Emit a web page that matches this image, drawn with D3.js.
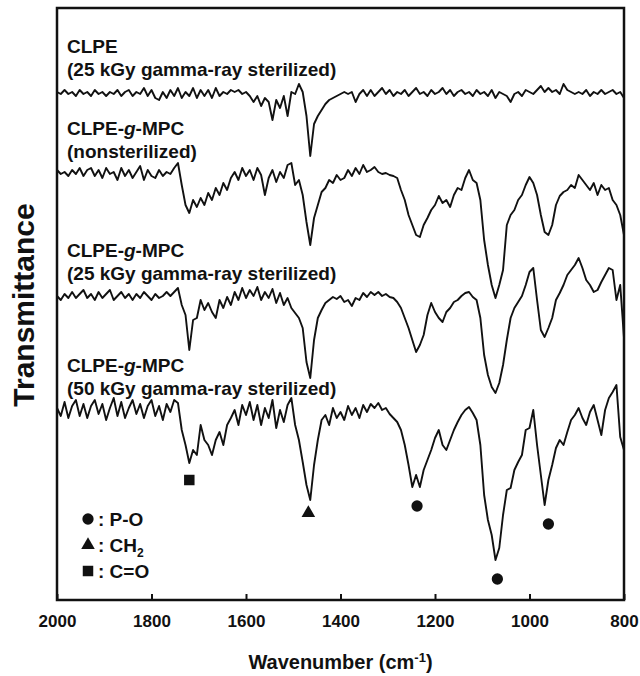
<!DOCTYPE html>
<html lang="en">
<head>
<meta charset="UTF-8">
<title>FTIR spectra of CLPE and CLPE-g-MPC</title>
<script src="https://d3js.org/d3.v7.min.js"></script>
<style>
  body { margin: 0; background: #fff; }
  svg text { font-family: Arial, "Liberation Sans", sans-serif; font-weight: bold; fill: #111; }
</style>
</head>
<body>
<div id="viz"></div>
<script>
// sampling grid (cm-1)
var wavenumbers = [
  2000,1992,1984,1976,1968,1960,1952,1944,1936,1928,
  1920,1912,1904,1896,1888,1880,1872,1864,1856,1848,
  1840,1832,1824,1816,1808,1800,1792,1784,1776,1768,
  1760,1752,1744,1736,1728,1720,1712,1704,1696,1688,
  1680,1672,1664,1656,1648,1640,1632,1624,1616,1608,
  1600,1592,1584,1576,1568,1560,1552,1544,1536,1528,
  1520,1512,1504,1496,1488,1480,1472,1464,1456,1448,
  1440,1432,1424,1416,1408,1400,1392,1384,1376,1368,
  1360,1352,1344,1336,1328,1320,1312,1304,1296,1288,
  1280,1272,1264,1256,1248,1240,1232,1224,1216,1208,
  1200,1192,1184,1176,1168,1160,1152,1144,1136,1128,
  1120,1112,1104,1096,1088,1080,1072,1064,1056,1048,
  1040,1032,1024,1016,1008,1000,992,984,976,968,
  960,952,944,936,928,920,912,904,896,888,
  880,872,864,856,848,840,832,824,816,808,
  800
];

// offset transmittance (a.u.), one value per wavenumber
var clpe25 = [
  127,126.5,127.5,126.5,127,126,127.5,126.5,127,126,
  127.5,126.5,127,126,127,126.5,127.5,126,127,127.5,
  126,127,126.5,128,126,127.5,125.5,125,127,125.5,
  127.5,126,128,125.5,127,126,128,125.5,127.5,126,
  127.5,125.5,128,126,127,126.5,127.5,127,127.5,126.5,
  127,126,124.5,126,123.5,125.5,124.5,120,125,123,
  126,121,127,126.5,129,127,121,111,119,121,
  122.5,124,125,125.5,126,126.5,127,126.5,127,124.5,
  126.5,127.5,126,127.5,126,127,128,126.5,127.5,126,
  127,126.5,127.5,126,127,128,126.5,127,126,127.5,
  126.5,127,128,126.5,127.5,126,127,127.5,126.5,127,
  126,127.5,126.5,127,126,127.5,125.5,127,126.5,126,
  124.5,126.5,127,126,127.5,127,126.5,127.5,128.5,127,
  128,127,127.5,126.5,129,127.5,127,126.5,127,126.5,
  127.5,126,127,126.5,127.5,126.5,127,127.5,126.5,127,
  125.5
];

var mpcNonsterilized = [
  107.5,106.5,107,106,107.5,106.5,108,106,107.5,108,
  106,107.5,105.5,108,106.5,107,105,108,106,107.5,
  105.5,107,108.5,105,107.5,106,105.5,107.5,106,107,
  106.5,108,109.25,103.75,98.75,96.75,100,98.25,100.5,98.75,
  101.75,100,103,101.25,104.25,102.5,105.5,107,105,108,
  106,107.5,105,108,106.25,101.25,105.5,107.5,104.5,107,
  105.5,108.75,109.25,103.75,105,101.25,94.5,88.75,95.5,98.75,
  102,103,105,104.25,106.25,105,105.5,107.5,106,108,
  106.5,108.75,107,107.5,108.25,107,106.5,106.75,106.25,106,
  105.5,102.5,100,96.25,93.75,91.25,90.75,93.75,95.5,97.5,
  98.75,101,99.25,100,98.25,101.25,103,102.5,105.5,107.5,
  105,104.25,100,90,83.75,78.75,75.5,78.75,82.5,93.75,
  96.25,97.5,100,101.25,103.75,105.75,104.25,101.25,96.25,92,
  91.25,93.75,98.75,101,102,102.5,103.75,103,106.25,105,
  103.75,102.5,104.25,101.25,103.75,102.5,103,100,98.75,96.25,
  91.25
];

var mpc25 = [
  76,75,76.5,75.5,77,75.5,76.5,77.5,75.5,76.5,
  75,77,75.5,76.5,77.5,75,76,77,75.5,76.5,
  75,76.5,75.5,77,76,75,76.5,75.5,76,77,
  76,77,78,73.75,71.25,62.5,70,70.5,75,72.5,
  74.25,72,70.5,75,73,75.75,73.75,77,75,78,
  75.5,77.5,76,78.25,75,77,75.5,77.75,74.25,76.75,
  73.75,75.5,73,71.75,70.5,68,59.5,55.5,65,70.5,
  72.5,74.25,75,75.75,75.25,76,74.5,75,73.5,75.5,
  75,76.75,75.75,77,76.25,77,76,76.5,75.75,75.5,
  74.5,73,70.5,68,65,62,63.75,66.25,71.25,74.25,
  72,70.5,69.5,72,73,74.5,75,76,76.75,77,
  75.75,75,70.5,61.25,56.25,53.25,51.75,54.25,58.75,65,
  70.5,73,74.5,76,78.75,82,83,75,67.5,65.75,
  68,70.5,75,76.75,78.75,81.25,82.5,83.75,85.5,83,
  80,78.75,77,77.5,79.5,81.25,83,82.5,75,78.75,
  65.5
];

var mpc50 = [
  48,46,49.5,45.5,48.5,50,46,49,45.5,48.5,
  50,46.5,49,45,48,50.5,46,49.5,45.5,48,
  50,46.5,49,45.5,48.5,50,46,48.5,45,49,
  47,50,49.25,42.5,38.75,34.25,37.5,36.25,43.75,40,
  38.75,36.25,40,42,38.75,43.75,45.5,47.5,43.75,48.75,
  46.25,49.5,45,48.75,43.75,48,45.5,50,43,47.5,
  44.5,48.75,50.5,43.75,40,34.5,28.75,25,33.75,40,
  45,46.25,43.75,48,45.5,47,45,48.5,46.25,48,
  45.5,48.75,47,49,48,49.25,47.5,48,46.5,45.5,
  44.5,42.5,38.75,33.75,28.25,31.25,28.25,32.5,35,37.5,
  40.5,42.5,38.75,37.5,40,42.5,44.5,46.25,47.5,48.25,
  46.75,45,38.75,26.25,20,16.25,10,13,21.25,27.5,
  28,32.5,34.5,36.25,42.5,43,47.5,38.75,31.25,23.75,
  30,33.75,38,40,38.75,42,45,46.25,48,45.5,
  43.75,47,48.75,45,41.25,47.5,50.5,52,53.75,40.75,
  37.5
];

var seriesList = [clpe25, mpcNonsterilized, mpc25, mpc50];

// peak assignment markers
var peakWavenumbers = [1720, 1468, 1238, 1068, 960];
var peakLevels = [30, 21.75, 23.5, 5.25, 19];
var peakShapes = ["square", "triangle", "circle", "circle", "circle"];

var legendShapes = ["circle", "triangle", "square"];
var legendLabels = ["P-O", "CH2", "C=O"];

var tickValues = [2000, 1800, 1600, 1400, 1200, 1000, 800];

var width = 640, height = 676;
var margin = { left: 57, right: 16, top: 8, bottom: 76 };

var svg = d3.select("#viz").append("svg")
    .attr("width", width)
    .attr("height", height);

var x = d3.scaleLinear()
    .domain([2000, 800])
    .range([margin.left, width - margin.right]);

var y = d3.scaleLinear()
    .domain([0, 148])
    .range([height - margin.bottom, margin.top]);

// spectra
var line = d3.line()
    .x(function(d, i) { return x(wavenumbers[i]); })
    .y(function(d) { return y(d); });

svg.selectAll("path.spectrum")
  .data(seriesList)
  .enter()
  .append("path")
    .attr("class", "spectrum")
    .attr("d", line)
    .attr("fill", "none")
    .attr("stroke", "#111")
    .attr("stroke-width", 1.9)
    .attr("stroke-linejoin", "round");

// series labels (two lines each)
var labelRows = [
  [{ t: "CLPE" }, { t: "(25 kGy gamma-ray sterilized)" }],
  [{ t: "CLPE-", it: "g", rest: "-MPC" }, { t: "(nonsterilized)" }],
  [{ t: "CLPE-", it: "g", rest: "-MPC" }, { t: "(25 kGy gamma-ray sterilized)" }],
  [{ t: "CLPE-", it: "g", rest: "-MPC" }, { t: "(50 kGy gamma-ray sterilized)" }]
];
var labelBaselines = [53, 76, 135, 158, 257, 280, 372, 395];

labelRows.forEach(function(rows, k) {
  rows.forEach(function(r, j) {
    var t = svg.append("text")
        .attr("x", 67)
        .attr("y", labelBaselines[k * 2 + j])
        .style("font-size", "19px");
    t.append("tspan").text(r.t);
    if (r.it) {
      t.append("tspan").style("font-style", "italic").text(r.it);
      t.append("tspan").text(r.rest);
    }
  });
});

// markers
function symbolFor(s) {
  if (s === "circle") return d3.symbol().type(d3.symbolCircle).size(100)();
  if (s === "triangle") return d3.symbol().type(d3.symbolTriangle).size(80)();
  return d3.symbol().type(d3.symbolSquare).size(110)();
}

svg.selectAll("path.peak")
  .data(peakWavenumbers)
  .enter()
  .append("path")
    .attr("class", "peak")
    .attr("d", function(d, i) { return symbolFor(peakShapes[i]); })
    .attr("transform", function(d, i) {
      return "translate(" + x(d) + "," + y(peakLevels[i]) + ")";
    })
    .attr("fill", "#111");

// legend
var legendY = [519, 545, 571];
legendShapes.forEach(function(s, i) {
  svg.append("path")
      .attr("d", symbolFor(s))
      .attr("transform", "translate(88," + legendY[i] + ")")
      .attr("fill", "#111");
  var t = svg.append("text")
      .attr("x", 98)
      .attr("y", legendY[i] + 7)
      .style("font-size", "19px");
  if (legendLabels[i] === "CH2") {
    t.append("tspan").text(": CH");
    t.append("tspan").attr("dy", 5).style("font-size", "12px").text("2");
  } else {
    t.text(": " + legendLabels[i]);
  }
});

// frame
svg.append("rect")
    .attr("x", x(2000))
    .attr("y", y(148))
    .attr("width", x(800) - x(2000))
    .attr("height", y(0) - y(148))
    .attr("fill", "none")
    .attr("stroke", "#111")
    .attr("stroke-width", 2.5);

// bottom axis with inward ticks
var xAxis = d3.axisBottom(x)
    .tickValues(tickValues)
    .tickSizeInner(-6)
    .tickSizeOuter(0)
    .tickPadding(15)
    .tickFormat(d3.format("d"));

var gx = svg.append("g")
    .attr("transform", "translate(0," + y(0) + ")")
    .call(xAxis);
gx.select(".domain").remove();
gx.selectAll(".tick line").attr("stroke", "#111").attr("stroke-width", 2);
gx.selectAll(".tick text")
    .style("font-size", "17px")
    .style("font-family", "Arial, 'Liberation Sans', sans-serif")
    .style("font-weight", "bold")
    .attr("fill", "#111");

// axis titles
var xt = svg.append("text")
    .attr("x", (x(2000) + x(800)) / 2)
    .attr("y", 669)
    .attr("text-anchor", "middle")
    .style("font-size", "20px");
xt.append("tspan").text("Wavenumber (cm");
xt.append("tspan").attr("dy", -7).style("font-size", "13px").text("-1");
xt.append("tspan").attr("dy", 7).text(")");

svg.append("text")
    .attr("transform", "translate(34,305) rotate(-90)")
    .attr("text-anchor", "middle")
    .style("font-size", "30px")
    .text("Transmittance");
</script>
</body>
</html>
